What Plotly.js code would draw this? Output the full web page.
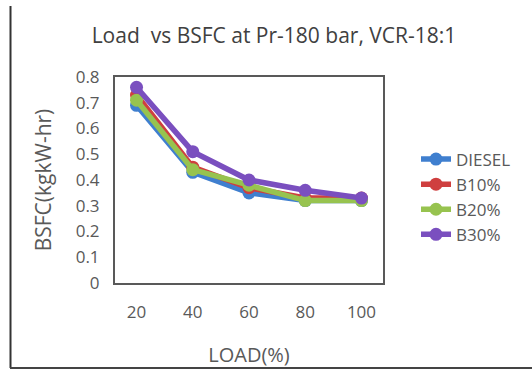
<!DOCTYPE html>
<html>
<head>
<meta charset="utf-8">
<script src="https://cdn.plot.ly/plotly-3.0.1.min.js"></script>
<style>
html,body{margin:0;padding:0;background:#fff;}
#chart{width:532px;height:371px;}
</style>
</head>
<body>
<div id="chart"></div>
<script>
const loads = ["20", "40", "60", "80", "100"];
const diesel = [0.69, 0.43, 0.35, 0.32, 0.32];
const b10 = [0.73, 0.45, 0.37, 0.33, 0.33];
const b20 = [0.71, 0.44, 0.38, 0.32, 0.32];
const b30 = [0.76, 0.51, 0.40, 0.36, 0.33];
const seriesNames = ["DIESEL", "B10%", "B20%", "B30%"];
const yTicks = [0, 0.1, 0.2, 0.3, 0.4, 0.5, 0.6, 0.7, 0.8];

const colors = ["#3f7fcf", "#cf3f3f", "#97c34f", "#7a4fbf"];
const series = [diesel, b10, b20, b30];

const traces = series.map((vals, i) => ({
  type: "scatter",
  mode: "lines+markers",
  x: loads,
  y: vals,
  name: seriesNames[i],
  line: {color: colors[i], width: 5.5},
  marker: {color: colors[i], size: 13, symbol: "circle"}
}));

const W = 532, H = 371;
const m = {l: 115, r: 149, t: 77, b: 88};
const pw = W - m.l - m.r, ph = H - m.t - m.b;
const px = v => (v - m.l) / pw;
const py = v => (H - m.b - v) / ph;
const FONT = "Open Sans, Noto Sans, sans-serif";

const layout = {
  width: W, height: H,
  margin: m,
  paper_bgcolor: "#ffffff",
  plot_bgcolor: "#ffffff",
  font: {family: FONT, color: "#595959", size: 17},
  title: {
    text: "Load  vs BSFC at Pr-180 bar, VCR-18:1",
    font: {size: 21, color: "#404040", family: FONT},
    x: 0.515, xanchor: "center", y: 0.905, yanchor: "middle"
  },
  xaxis: {
    type: "category",
    showline: true, linecolor: "#595959", linewidth: 2, mirror: true,
    showgrid: false, ticks: "", zeroline: false,
    tickfont: {size: 17, color: "#595959"},
    ticklabelstandoff: 13,
    title: {text: "LOAD(%)", font: {size: 20, color: "#595959"}, standoff: 26}
  },
  yaxis: {
    range: [0, 0.8],
    tickvals: yTicks,
    ticktext: yTicks.map(v => v === 0 ? "0" : v.toFixed(1)),
    showline: true, linecolor: "#595959", linewidth: 2, mirror: true,
    showgrid: false, ticks: "", zeroline: false,
    tickfont: {size: 17, color: "#595959"},
    ticklabelstandoff: 10,
    title: {text: "BSFC(kgkW-hr)", font: {size: 21, color: "#595959"}, standoff: 18}
  },
  legend: {
    x: px(416), xanchor: "left", y: py(197), yanchor: "middle",
    font: {size: 17, color: "#595959"},
    bgcolor: "rgba(0,0,0,0)",
    itemwidth: 30,
    tracegroupgap: 6
  },
  showlegend: true,
  shapes: [
    {type: "line", xref: "paper", yref: "paper", x0: px(10.5), x1: px(10.5), y0: py(6), y1: py(368), line: {color: "#333333", width: 2}},
    {type: "line", xref: "paper", yref: "paper", x0: px(10), x1: px(532), y0: py(368), y1: py(368), line: {color: "#444444", width: 2}}
  ]
};

Plotly.newPlot("chart", traces, layout, {displayModeBar: false, staticPlot: true});
</script>
</body>
</html>
